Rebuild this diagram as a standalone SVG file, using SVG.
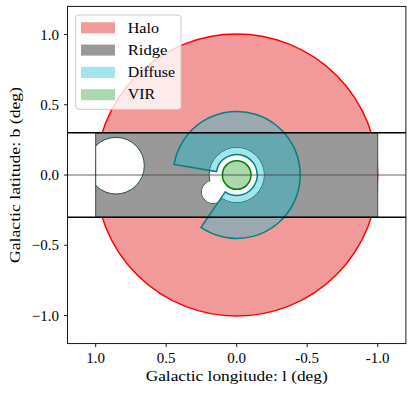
<svg xmlns="http://www.w3.org/2000/svg" width="414" height="393" viewBox="0 0 414 393">
<style>
.t{font-family:"Liberation Serif","Times New Roman",serif;fill:#000}
.tick{font-size:15px}
.lab{font-size:15.5px}
.leg{font-size:15px}
.hole{fill:#fff;stroke:#2f4f4f;stroke-width:1}
.holefill{fill:#fff;stroke:none}
.ax{stroke:#000;stroke-width:0.9;fill:none}
</style>
<defs>
<clipPath id="ridgeclip"><rect x="95.7" y="132.8" width="282" height="84.4"/></clipPath>
</defs>
<rect x="0" y="0" width="414" height="393" fill="#fff"/>
<g id="halo">
<circle cx="236.7" cy="175" r="141" fill="#F29999" stroke="#ff0000" stroke-width="1.5"/>
</g>
<g id="ridge">
<rect x="95.7" y="132.8" width="282" height="84.4" fill="#999999"/>
<g clip-path="url(#ridgeclip)">
<circle class="hole" cx="116" cy="165.7" r="28.3"/>
<circle class="hole" cx="236.7" cy="175" r="27.5"/>
<circle class="hole" cx="213" cy="192" r="11.5"/>
<circle class="holefill" cx="236.7" cy="175" r="27"/>
<circle class="holefill" cx="213" cy="192" r="11"/>
</g>
<rect x="95.7" y="132.8" width="282" height="84.4" fill="none" stroke="#2f4f4f" stroke-width="1"/>
</g>
<g id="diffuse">
<path d="M174.1,164.4 A63.5,63.5 0 1 1 200.92,227.46 L225.15,191.93 A20.5,20.5 0 1 0 216.49,171.58 Z" fill="#17becf" fill-opacity="0.4" stroke="#008080" stroke-width="1.5" stroke-linejoin="miter"/>
</g>
<g id="vir">
<circle cx="236.7" cy="175" r="14.3" fill="#2ca02c" fill-opacity="0.4" stroke="#008000" stroke-width="1.5"/>
</g>
<g id="connectors">
<line x1="67.5" y1="132.8" x2="405.9" y2="132.8" stroke="#000" stroke-width="1.5"/>
<line x1="67.5" y1="217.2" x2="405.9" y2="217.2" stroke="#000" stroke-width="1.5"/>
<line x1="67.5" y1="175" x2="405.9" y2="175" stroke="#404040" stroke-width="0.8"/>
</g>
<g id="axes">
<rect class="ax" x="67.5" y="6.4" width="338.4" height="337.2"/>
<g stroke="#000" stroke-width="0.9">
<line x1="95.7" y1="343.6" x2="95.7" y2="347.1"/>
<line x1="166.2" y1="343.6" x2="166.2" y2="347.1"/>
<line x1="236.7" y1="343.6" x2="236.7" y2="347.1"/>
<line x1="307.2" y1="343.6" x2="307.2" y2="347.1"/>
<line x1="377.7" y1="343.6" x2="377.7" y2="347.1"/>
<line x1="64" y1="34.5" x2="67.5" y2="34.5"/>
<line x1="64" y1="104.75" x2="67.5" y2="104.75"/>
<line x1="64" y1="175" x2="67.5" y2="175"/>
<line x1="64" y1="245.25" x2="67.5" y2="245.25"/>
<line x1="64" y1="315.5" x2="67.5" y2="315.5"/>
</g>
<g class="t tick" text-anchor="middle">
<text x="95.7" y="362.7">1.0</text>
<text x="166.2" y="362.7">0.5</text>
<text x="236.7" y="362.7">0.0</text>
<text x="307.2" y="362.7">-0.5</text>
<text x="377.7" y="362.7">-1.0</text>
</g>
<g class="t tick" text-anchor="end">
<text x="59" y="39.5">1.0</text>
<text x="59" y="109.75">0.5</text>
<text x="59" y="180">0.0</text>
<text x="59" y="250.25">−0.5</text>
<text x="59" y="320.5">−1.0</text>
</g>
<text class="t lab" x="236.7" y="381" text-anchor="middle" textLength="182" lengthAdjust="spacingAndGlyphs">Galactic longitude: l (deg)</text>
<text class="t lab" transform="translate(20,175) rotate(-90)" x="0" y="0" text-anchor="middle" textLength="176" lengthAdjust="spacingAndGlyphs">Galactic latitude: b (deg)</text>
</g>
<g id="legend">
<rect x="75.7" y="15" width="105.3" height="94.3" rx="3" fill="#fff" fill-opacity="0.8" stroke="#cccccc" stroke-width="1"/>
<rect x="81" y="22.3" width="34" height="11" fill="#F29999"/>
<rect x="81" y="44.6" width="34" height="11" fill="#999999"/>
<rect x="81" y="66.9" width="34" height="11" fill="#a2e5ec"/>
<rect x="81" y="89.2" width="34" height="11" fill="#abd9ab"/>
<g class="t leg">
<text x="127.7" y="32.5" textLength="31.3" lengthAdjust="spacingAndGlyphs">Halo</text>
<text x="127.7" y="54.8" textLength="39.7" lengthAdjust="spacingAndGlyphs">Ridge</text>
<text x="127.7" y="77.1" textLength="47.3" lengthAdjust="spacingAndGlyphs">Diffuse</text>
<text x="127.7" y="99.4" textLength="27.3" lengthAdjust="spacingAndGlyphs">VIR</text>
</g>
</g>
</svg>
